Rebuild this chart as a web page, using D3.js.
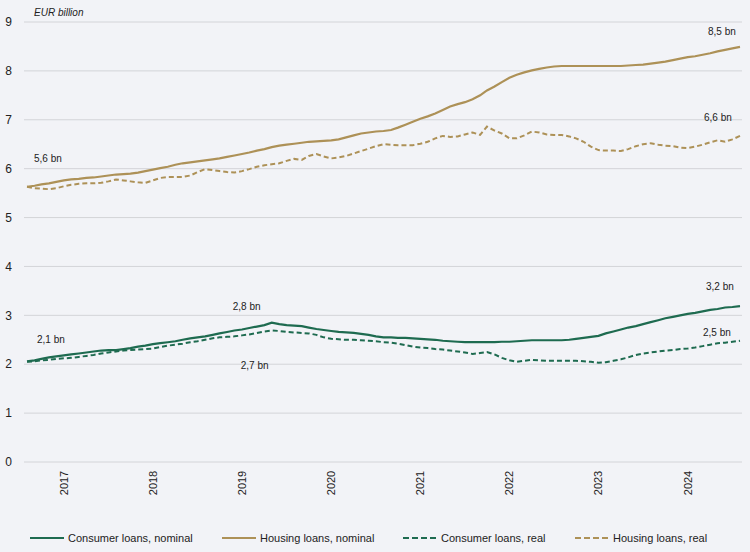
<!DOCTYPE html>
<html>
<head>
<meta charset="utf-8">
<script src="https://cdn.jsdelivr.net/npm/d3@7"></script>
<style>
  body { margin: 0; background: #f2f3f7; }
  svg { display: block; font-family: "Liberation Sans", Arial, sans-serif; }
</style>
</head>
<body>
<div id="chart"></div>
<script>
// monthly observations, Jan 2017 - Jan 2025
const startMonth = new Date(2017, 0, 1);
const endMonth = new Date(2025, 0, 1);
const months = d3.timeMonth.range(startMonth, new Date(2025, 1, 1));

const years = [2017, 2018, 2019, 2020, 2021, 2022, 2023, 2024];
const yTicks = [0, 1, 2, 3, 4, 5, 6, 7, 8, 9];

const consumerNominal = [
  2.06, 2.08, 2.11, 2.14, 2.16, 2.18, 2.20, 2.22, 2.24, 2.26, 2.28, 2.29,
  2.29, 2.31, 2.33, 2.36, 2.38, 2.41, 2.43, 2.45, 2.47, 2.50, 2.53, 2.55,
  2.57, 2.60, 2.63, 2.66, 2.69, 2.71, 2.74, 2.77, 2.80, 2.85, 2.82, 2.80,
  2.79, 2.78, 2.75, 2.72, 2.70, 2.68, 2.66, 2.65, 2.64, 2.62, 2.60, 2.57,
  2.55, 2.55, 2.54, 2.54, 2.53, 2.52, 2.51, 2.50, 2.48, 2.47, 2.46, 2.45,
  2.45, 2.45, 2.45, 2.45, 2.46, 2.46, 2.47, 2.48, 2.49, 2.49, 2.49, 2.49,
  2.49, 2.50, 2.52, 2.54, 2.56, 2.58, 2.63, 2.67, 2.71, 2.75, 2.78, 2.82,
  2.86, 2.90, 2.94, 2.97, 3.00, 3.03, 3.05, 3.08, 3.11, 3.13, 3.16, 3.17,
  3.19
];
const housingNominal = [
  5.63, 5.65, 5.68, 5.70, 5.73, 5.76, 5.78, 5.79, 5.81, 5.82, 5.84, 5.86,
  5.88, 5.89, 5.90, 5.92, 5.95, 5.98, 6.01, 6.04, 6.08, 6.11, 6.13, 6.15,
  6.17, 6.19, 6.21, 6.24, 6.27, 6.30, 6.33, 6.37, 6.40, 6.44, 6.47, 6.49,
  6.51, 6.53, 6.55, 6.56, 6.57, 6.58, 6.60, 6.64, 6.68, 6.72, 6.74, 6.76,
  6.77, 6.79, 6.84, 6.90, 6.96, 7.02, 7.07, 7.13, 7.20, 7.27, 7.32, 7.36,
  7.42, 7.50, 7.60, 7.68, 7.77, 7.86, 7.92, 7.97, 8.01, 8.04, 8.07, 8.09,
  8.10, 8.10, 8.10, 8.10, 8.10, 8.10, 8.10, 8.10, 8.10, 8.11, 8.12, 8.13,
  8.15, 8.17, 8.19, 8.22, 8.25, 8.28, 8.30, 8.33, 8.36, 8.40, 8.43, 8.46,
  8.49
];
const consumerReal = [
  2.05, 2.06, 2.08, 2.09, 2.11, 2.12, 2.13, 2.15, 2.17, 2.19, 2.22, 2.24,
  2.26, 2.28, 2.29, 2.30, 2.31, 2.32, 2.35, 2.38, 2.40, 2.42, 2.45, 2.47,
  2.50, 2.53, 2.55, 2.56, 2.57, 2.59, 2.61, 2.64, 2.67, 2.69, 2.68, 2.66,
  2.65, 2.64, 2.63, 2.60, 2.55, 2.52, 2.51, 2.50, 2.50, 2.49, 2.48, 2.47,
  2.45, 2.44, 2.42, 2.39, 2.36, 2.34, 2.33, 2.31, 2.30, 2.28, 2.26, 2.24,
  2.21, 2.23, 2.25, 2.20, 2.13, 2.08, 2.05, 2.07, 2.09, 2.08, 2.07, 2.07,
  2.07, 2.07, 2.07, 2.06, 2.05, 2.03, 2.04, 2.07, 2.10, 2.14, 2.19, 2.22,
  2.24, 2.26, 2.28, 2.29, 2.31, 2.32, 2.34, 2.37, 2.40, 2.43, 2.44, 2.46,
  2.48
];
const housingReal = [
  5.63, 5.60, 5.59, 5.58, 5.60, 5.64, 5.67, 5.69, 5.70, 5.70, 5.71, 5.74,
  5.78, 5.76, 5.74, 5.72, 5.71, 5.76, 5.81, 5.83, 5.83, 5.83, 5.86, 5.93,
  5.99, 5.97, 5.95, 5.93, 5.92, 5.95, 5.99, 6.04, 6.07, 6.09, 6.11, 6.16,
  6.20, 6.18, 6.26, 6.30, 6.25, 6.21, 6.23, 6.26, 6.31, 6.36, 6.41, 6.46,
  6.50, 6.49, 6.48, 6.48, 6.48, 6.51, 6.55, 6.62, 6.67, 6.65, 6.66, 6.70,
  6.74, 6.69, 6.86, 6.78, 6.72, 6.62, 6.62, 6.68, 6.76, 6.74, 6.70, 6.69,
  6.69, 6.66, 6.62, 6.55, 6.45, 6.38, 6.37, 6.37, 6.36, 6.40, 6.46, 6.50,
  6.52, 6.49, 6.47, 6.46, 6.43, 6.42, 6.45, 6.49, 6.54, 6.58, 6.55, 6.60,
  6.67
];

const green = "#1e6b50", gold = "#ad9157";

const series = [
  {name: "Consumer loans, nominal", values: consumerNominal, color: green, dash: null},
  {name: "Housing loans, nominal", values: housingNominal, color: gold, dash: null},
  {name: "Consumer loans, real", values: consumerReal, color: green, dash: "5,3"},
  {name: "Housing loans, real", values: housingReal, color: gold, dash: "5,3"}
];

// value callouts: [series index, month index, text, dx, dy]
const callouts = [
  [1, 0, "5,6 bn", 7, -28],
  [1, 96, "8,5 bn", -32, -15],
  [3, 96, "6,6 bn", -36, -18],
  [0, 0, "2,1 bn", 10, -22],
  [0, 33, "2,8 bn", -39, -16],
  [2, 33, "2,7 bn", -31, 35],
  [0, 96, "3,2 bn", -34, -20],
  [2, 96, "2,5 bn", -37, -8]
];

const W = 750, H = 552;
const plotLeft = 24, plotRight = 742;

const svg = d3.select("#chart").append("svg")
  .attr("width", W)
  .attr("height", H);

svg.append("rect").attr("width", W).attr("height", H).attr("fill", "#f2f3f7");

const x = d3.scaleTime().domain([startMonth, endMonth]).range([27, 740]);
const y = d3.scaleLinear().domain([0, 9]).range([462, 22]);

// grid
svg.append("g").selectAll("line")
  .data(yTicks)
  .join("line")
  .attr("x1", plotLeft).attr("x2", plotRight)
  .attr("y1", d => y(d)).attr("y2", d => y(d))
  .attr("stroke", "#d3d4d8")
  .attr("stroke-width", 1);

// y tick labels
svg.append("g").selectAll("text")
  .data(yTicks)
  .join("text")
  .attr("x", 12)
  .attr("y", d => y(d))
  .attr("dy", "0.35em")
  .attr("text-anchor", "end")
  .style("font-size", "12px")
  .attr("fill", "#222")
  .text(d => d);

svg.append("text")
  .attr("x", 34).attr("y", 16)
  .style("font-size", "10px")
  .style("font-style", "italic")
  .attr("fill", "#222")
  .text("EUR billion");

// year labels, rotated
svg.append("g").selectAll("text")
  .data(years)
  .join("text")
  .attr("transform", d => `translate(${x(new Date(d, 5, 1)) + 4},483) rotate(-90)`)
  .attr("text-anchor", "middle")
  .style("font-size", "11px")
  .attr("fill", "#222")
  .text(d => d);

// lines
const line = d3.line()
  .x((d, i) => x(months[i]))
  .y(d => y(d));

series.forEach(s => {
  svg.append("path")
    .datum(s.values)
    .attr("fill", "none")
    .attr("stroke", s.color)
    .attr("stroke-width", s.dash ? 2 : 2.2)
    .attr("stroke-dasharray", s.dash)
    .attr("d", line);
});

// callouts
svg.append("g").selectAll("text")
  .data(callouts)
  .join("text")
  .attr("x", d => x(months[d[1]]) + d[3])
  .attr("y", d => y(series[d[0]].values[d[1]]) + d[4])
  .attr("dy", "0.35em")
  .style("font-size", "10px")
  .attr("fill", "#222")
  .text(d => d[2]);

// legend
const legendX = [30, 222, 403, 575];
const legend = svg.append("g").selectAll("g")
  .data(series)
  .join("g")
  .attr("transform", (d, i) => `translate(${legendX[i]},538)`);

legend.append("line")
  .attr("x1", 0).attr("x2", 34)
  .attr("stroke", d => d.color)
  .attr("stroke-width", 2)
  .attr("stroke-dasharray", d => d.dash ? "6,3" : null);

legend.append("text")
  .attr("x", 38)
  .attr("dy", "0.35em")
  .style("font-size", "11px")
  .attr("fill", "#222")
  .text(d => d.name);
</script>
</body>
</html>
